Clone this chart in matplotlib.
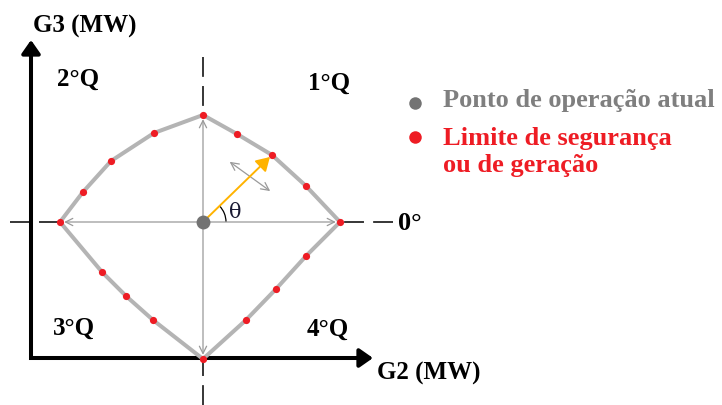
import numpy as np
import matplotlib.pyplot as plt
from matplotlib.patches import Arc

# Security / generation limit points, offsets from the current operating point (MW)
limit_g2 = [0, 34, 69, 103, 137, 103, 73, 43, 0, -50, -77, -101, -143, -120, -92, -49]
limit_g3 = [107, 88, 67, 36, 0, -34, -67, -98, -137, -98, -74, -50, 0, 30, 61, 89]

# Current operating point
op_g2 = 0
op_g3 = 0

# index of the limit point reached along direction theta
theta_idx = 2

quadrant_labels = ['1°Q', '2°Q', '3°Q', '4°Q']
legend_labels = ['Ponto de operação atual', 'Limite de segurança', 'ou de geração']

gray_line = '#b4b4b4'
red = '#ee1c24'
gray_dot = '#737373'
orange = '#ffb300'

plt.rcParams['font.family'] = ['Liberation Serif', 'DejaVu Serif']

fig = plt.figure(figsize=(7.22, 4.05), dpi=100)
ax = fig.add_axes([0, 0, 1, 1])
ax.set_xlim(-203, 519)
ax.set_ylim(-183, 222)
ax.axis('off')

g2 = np.array(limit_g2, dtype=float)
g3 = np.array(limit_g3, dtype=float)

# dashed guide lines through the operating point (outside the region only)
dash = dict(color='black', lw=1.1, dashes=(13, 6))
ax.plot([-193, g2[12]], [op_g3, op_g3], **dash)
ax.plot([190, g2[4]], [op_g3, op_g3], **dash)
ax.plot([op_g2, op_g2], [165, g3[0]], **dash)
ax.plot([op_g2, op_g2], [-183, g3[8]], **dash)

# main axes (L-shape with arrow heads)
x0, y0 = -172, -136
ax.plot([x0, x0, 160], [172, y0, y0], color='black', lw=2.9, solid_joinstyle='miter',
        solid_capstyle='butt')
ax.annotate('', xy=(x0, 182), xytext=(x0, 165),
            arrowprops=dict(arrowstyle='-|>,head_length=0.4,head_width=0.28', lw=2.9,
                            color='black', mutation_scale=20, shrinkA=0, shrinkB=0))
ax.annotate('', xy=(170, y0), xytext=(153, y0),
            arrowprops=dict(arrowstyle='-|>,head_length=0.4,head_width=0.28', lw=2.9,
                            color='black', mutation_scale=20, shrinkA=0, shrinkB=0))

# gray arrows to the extremes of the region
for i in [0, 4, 8, 12]:
    ax.annotate('', xy=(g2[i], g3[i]), xytext=(op_g2, op_g3),
                arrowprops=dict(arrowstyle='->', lw=0.9, color='#9a9a9a',
                                mutation_scale=13, shrinkA=0, shrinkB=3))

# limit boundary
ax.plot(np.append(g2, g2[0]), np.append(g3, g3[0]), color=gray_line, lw=2.9,
        solid_joinstyle='round', zorder=3)
ax.plot(g2, g3, 'o', color=red, ms=5.2, mec='none', zorder=4)

# direction arrow (theta)
tx, ty = g2[theta_idx] - op_g2, g3[theta_idx] - op_g3
ax.annotate('', xy=(op_g2 + tx * 0.97, op_g3 + ty * 0.97), xytext=(op_g2, op_g3),
            arrowprops=dict(arrowstyle='-|>,head_length=0.5,head_width=0.3', lw=1.4,
                            color=orange, mutation_scale=16, shrinkA=0, shrinkB=0), zorder=5)

# double arrow across the direction of movement
ang = np.degrees(np.arctan2(ty, tx))
cx, cy = op_g2 + 0.68 * tx, op_g3 + 0.68 * ty
perp = np.radians(ang - 80)
h = 25
ax.annotate('', xy=(cx - np.cos(perp) * h, cy - np.sin(perp) * h),
            xytext=(cx + np.cos(perp) * h, cy + np.sin(perp) * h),
            arrowprops=dict(arrowstyle='<->', lw=0.9, color='#9a9a9a',
                            mutation_scale=14, shrinkA=0, shrinkB=0))

ax.add_patch(Arc((op_g2, op_g3), 46, 46, theta1=0, theta2=ang, color='black', lw=0.9))
ax.text(op_g2 + 26, op_g3 + 4, 'θ', fontsize=15, color='#1a1a33', ha='left',
        va='baseline', family=['DejaVu Serif'])

ax.plot(op_g2, op_g3, 'o', color=gray_dot, ms=10, mec='none', zorder=6)

# labels
bold = dict(fontweight='bold', color='black')
ax.text(-170, 189, 'G3 (MW)', fontsize=18, ha='left', va='baseline', **bold)
ax.text(174, -158, 'G2 (MW)', fontsize=18, ha='left', va='baseline', **bold)
ax.text(195, -8, '0°', fontsize=19, ha='left', va='baseline', **bold)
q_pos = [(105, 132), (-146, 136), (-150, -113), (104, -114)]
for lab, (qx, qy) in zip(quadrant_labels, q_pos):
    ax.text(qx, qy, lab, fontsize=18, ha='left', va='baseline', **bold)

# legend
ax.plot(212, 119, 'o', color=gray_dot, ms=9, mec='none')
ax.plot(212, 85, 'o', color=red, ms=9, mec='none')
ax.text(240, 115, legend_labels[0], fontsize=19, fontweight='bold', color='#7f7f7f',
        ha='left', va='baseline')
ax.text(240, 77, legend_labels[1], fontsize=19, fontweight='bold', color=red,
        ha='left', va='baseline')
ax.text(240, 50, legend_labels[2], fontsize=19, fontweight='bold', color=red,
        ha='left', va='baseline')

fig.savefig('out.png', dpi=100)
